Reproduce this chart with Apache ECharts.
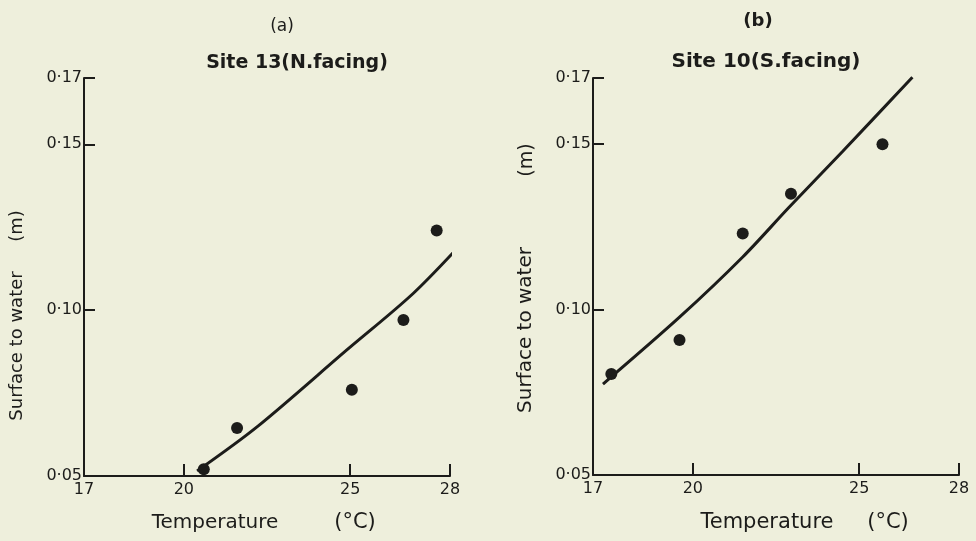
<!DOCTYPE html>
<html>
<head>
<meta charset="utf-8">
<title>Surface to water vs temperature</title>
<script src="https://cdn.jsdelivr.net/npm/echarts@6/dist/echarts.min.js"></script>
<style>
  html, body { margin: 0; padding: 0; background: #eeefdc; }
  #chart { width: 976px; height: 541px; }
</style>
</head>
<body>
<div id="chart"></div>
<script>
// axis ticks, shared by both panels
var tempTicks = [17, 20, 25, 28];
var tempTickLabels = ['17', '20', '25', '28'];
var depthTicks = [0.05, 0.10, 0.15, 0.17];
var depthTickLabels = ['0·05', '0·10', '0·15', '0·17'];

// (a) Site 13, N. facing - measured points
var tempA = [20.6, 21.6, 25.05, 26.6, 27.6];
var depthA = [0.052, 0.0645, 0.076, 0.097, 0.124];
// fitted curve
var fitTempA = [20.4, 22.2, 24.9, 26.9, 28.5];
var fitDepthA = [0.0515, 0.0648, 0.088, 0.1051, 0.1217];

// (b) Site 10, S. facing - measured points
var tempB = [17.55, 19.6, 21.5, 22.95, 25.7];
var depthB = [0.0805, 0.0908, 0.123, 0.135, 0.150];
var fitTempB = [17.3, 19.6, 21.5, 22.9, 24.5, 26.6];
var fitDepthB = [0.0775, 0.0977, 0.1159, 0.131, 0.1478, 0.1702];

var ink = '#1c1c1a';
var font = '"DejaVu Sans", sans-serif';

function pairs(xs, ys) {
    return xs.map(function (x, i) { return [x, ys[i]]; });
}

function xAxisFor(gridIndex) {
    return {
        type: 'value', gridIndex: gridIndex, min: 17, max: 28,
        axisLine: { lineStyle: { color: ink, width: 2 } },
        axisTick: { inside: true, length: 12, customValues: tempTicks, lineStyle: { color: ink, width: 2 } },
        axisLabel: {
            customValues: tempTicks, color: ink, fontSize: 16, fontFamily: font, margin: 6,
            formatter: function (v) { return tempTickLabels[tempTicks.indexOf(v)]; }
        },
        splitLine: { show: false }
    };
}

function yAxisFor(gridIndex) {
    return {
        type: 'value', gridIndex: gridIndex, min: 0.05, max: 0.17,
        axisLine: { show: true, lineStyle: { color: ink, width: 2 } },
        axisTick: { show: true, inside: true, length: 11, customValues: depthTicks, lineStyle: { color: ink, width: 2 } },
        axisLabel: {
            customValues: depthTicks, color: ink, fontSize: 16, fontFamily: font, margin: 2,
            formatter: function (v) {
                var i = depthTicks.findIndex(function (t) { return Math.abs(t - v) < 1e-6; });
                return depthTickLabels[i];
            }
        },
        splitLine: { show: false }
    };
}

function label(text, x, y, size, opts) {
    opts = opts || {};
    return {
        type: 'text', x: x, y: y, rotation: opts.rotate || 0,
        style: {
            text: text, fill: ink, textAlign: 'center', textVerticalAlign: 'middle',
            font: (opts.bold ? 'bold ' : '') + size + 'px ' + font
        }
    };
}

var chart = echarts.init(document.getElementById('chart'));
chart.setOption({
    backgroundColor: '#eeefdc',
    animation: false,
    grid: [
        { left: 84, top: 78, width: 366, height: 398 },
        { left: 593, top: 78, width: 366, height: 397 }
    ],
    xAxis: [xAxisFor(0), xAxisFor(1)],
    yAxis: [yAxisFor(0), yAxisFor(1)],
    series: [
        {
            type: 'line', xAxisIndex: 0, yAxisIndex: 0, data: pairs(fitTempA, fitDepthA),
            smooth: 0.3, showSymbol: false, clip: false,
            lineStyle: { color: ink, width: 3 }
        },
        {
            type: 'scatter', xAxisIndex: 0, yAxisIndex: 0, data: pairs(tempA, depthA),
            symbolSize: 12, itemStyle: { color: ink, opacity: 1 }
        },
        {
            type: 'line', xAxisIndex: 1, yAxisIndex: 1, data: pairs(fitTempB, fitDepthB),
            smooth: 0.3, showSymbol: false, clip: false,
            lineStyle: { color: ink, width: 3 }
        },
        {
            type: 'scatter', xAxisIndex: 1, yAxisIndex: 1, data: pairs(tempB, depthB),
            symbolSize: 12, itemStyle: { color: ink, opacity: 1 }
        }
    ],
    graphic: [
        // panel titles
        label('(a)', 282, 27, 17),
        label('Site 13(N.facing)', 297, 63, 19, { bold: true }),
        label('(b)', 758, 21, 18, { bold: true }),
        label('Site 10(S.facing)', 766, 62, 20, { bold: true }),
        // axis names, left panel
        label('Surface to water', 17, 346, 18, { rotate: Math.PI / 2 }),
        label('(m)', 17, 226, 18, { rotate: Math.PI / 2 }),
        label('Temperature', 215, 523, 20),
        label('(°C)', 355, 523, 21),
        // axis names, right panel
        label('Surface to water', 526, 330, 20, { rotate: Math.PI / 2 }),
        label('(m)', 527, 160, 19, { rotate: Math.PI / 2 }),
        label('Temperature', 767, 523, 21),
        label('(°C)', 888, 523, 21)
    ]
});
</script>
</body>
</html>
